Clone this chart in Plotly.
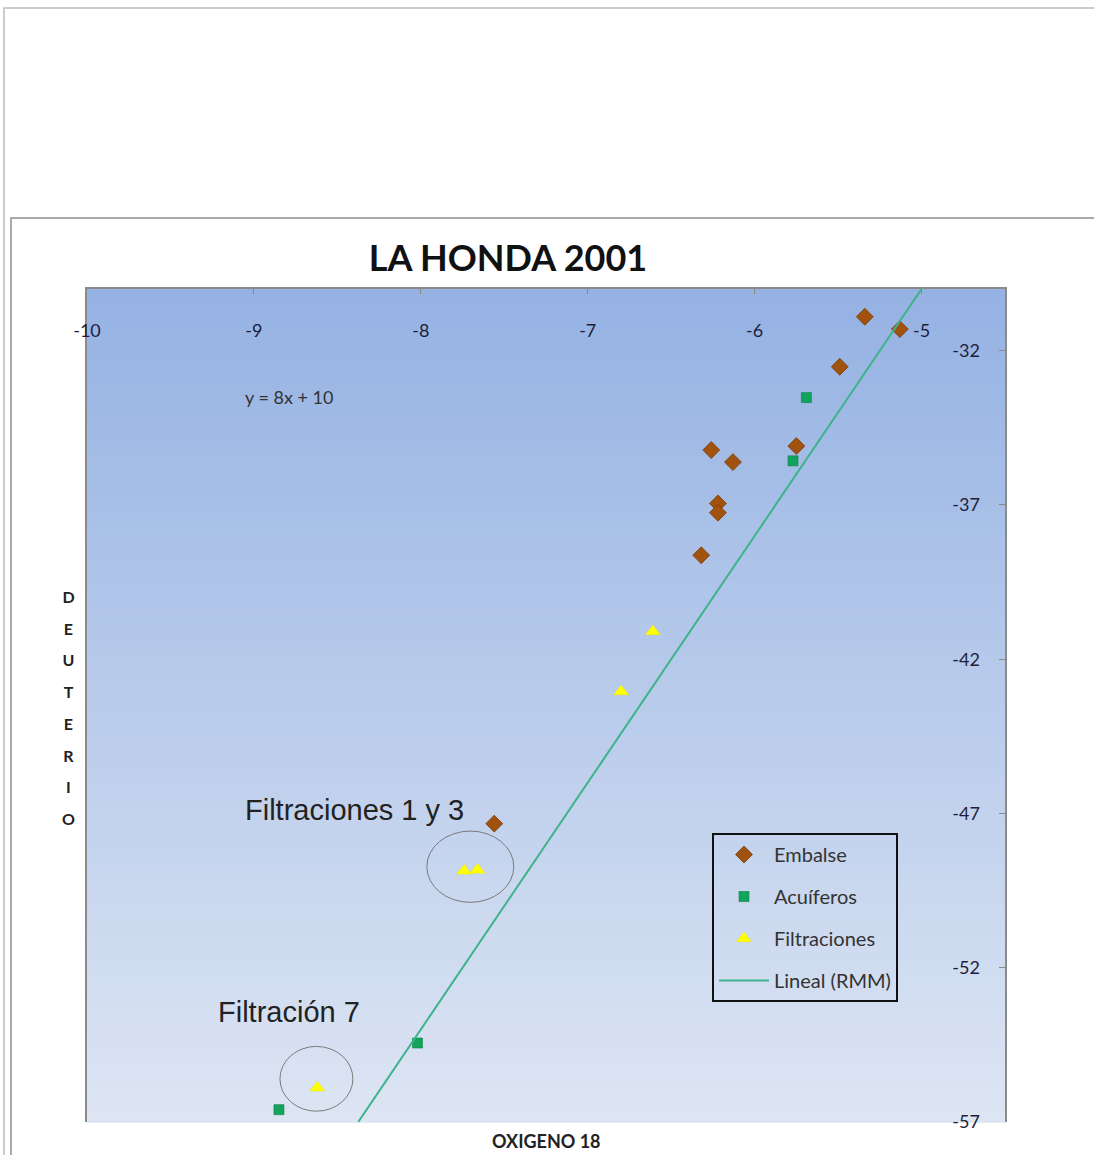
import plotly.graph_objects as go

# ---------------- data ----------------
embalse_x = [-5.34, -5.13, -5.49, -5.75, -6.26, -6.13, -6.22, -6.22, -6.32, -7.56]
embalse_y = [-30.90, -31.30, -32.52, -35.09, -35.22, -35.61, -36.95, -37.25, -38.63, -47.33]

acuiferos_x = [-5.69, -5.77, -8.02, -8.85]
acuiferos_y = [-33.52, -35.57, -54.44, -56.60]

filtraciones_x = [-6.61, -6.80, -7.74, -7.66, -8.62]
filtraciones_y = [-41.10, -43.05, -48.86, -48.83, -55.89]

rmm_slope = 8
rmm_intercept = 10

x_range = [-10, -4.5]
y_range = [-57, -30]
x_ticks = [-10, -9, -8, -7, -6, -5]
y_ticks = [-57, -52, -47, -42, -37, -32]

# ---------------- layout geometry ----------------
W, H = 1094, 1155
ML, MR, MT, MB = 87, 89, 289, 33
PW, PH = W - ML - MR, H - MT - MB


def px_x(p):
    return (p - ML) / PW


def px_y(p):
    return (H - MB - p) / PH


fig = go.Figure()

fig.add_trace(go.Scatter(
    x=embalse_x, y=embalse_y, mode="markers", name="Embalse",
    legendgroup="a",
    marker=dict(symbol="diamond", size=13, color="#A2520F",
                line=dict(color="#7A3C0A", width=0.8)),
))
fig.add_trace(go.Scatter(
    x=acuiferos_x, y=acuiferos_y, mode="markers", name="Acuíferos",
    legendgroup="b",
    marker=dict(symbol="square", size=10, color="#12A45C",
                line=dict(color="#0C8048", width=0.6)),
))
fig.add_trace(go.Scatter(
    x=filtraciones_x, y=filtraciones_y, mode="markers", name="Filtraciones",
    legendgroup="c",
    marker=dict(symbol="triangle-up", size=13, color="#FFFF00",
                line=dict(color="#E8E800", width=0.5)),
))

line_y = list(y_range)
line_x = [(v - rmm_intercept) / rmm_slope for v in line_y]
fig.add_trace(go.Scatter(
    x=line_x, y=line_y, mode="lines", name="Lineal (RMM)",
    legendgroup="d",
    line=dict(color="#3DB38A", width=2),
))

# gradient background of plot area
shapes = []
n = 80
top = (149, 178, 227)
bot = (221, 229, 243)
for i in range(n):
    t = i / (n - 1)
    c = tuple(round(top[k] + (bot[k] - top[k]) * t) for k in range(3))
    shapes.append(dict(
        type="rect", xref="x domain", yref="y domain",
        x0=0, x1=1, y0=1 - (i + 1) / n - 0.001, y1=1 - i / n,
        fillcolor="rgb(%d,%d,%d)" % c, line=dict(width=0), layer="below",
    ))

# outer frames
shapes.append(dict(type="rect", xref="paper", yref="paper",
                   x0=px_x(4), x1=px_x(1200), y0=px_y(1300), y1=px_y(8),
                   line=dict(color="#BBBBBB", width=1.5), layer="below"))
shapes.append(dict(type="rect", xref="paper", yref="paper",
                   x0=px_x(11), x1=px_x(1200), y0=px_y(1300), y1=px_y(218),
                   line=dict(color="#AAAAAA", width=2), layer="below"))

# ellipses around filtration points
shapes.append(dict(type="circle", xref="x", yref="y",
                   x0=-7.964, x1=-7.443, y0=-49.88, y1=-47.57,
                   line=dict(color="#7A7A7A", width=1)))
shapes.append(dict(type="circle", xref="x", yref="y",
                   x0=-8.844, x1=-8.407, y0=-56.65, y1=-54.55,
                   line=dict(color="#7A7A7A", width=1)))

deut = "<br>".join("<span style='font-size:16px'><b>%s</b></span>" % ch for ch in "DEUTERIO")

annotations = [
    dict(text="y = 8x + 10", xref="x", yref="y", x=-8.79, y=-33.5,
         showarrow=False, font=dict(family="Lato, sans-serif", size=18, color="#333333")),
    dict(text="Filtraciones 1 y 3", xref="x", yref="y", x=-8.395, y=-46.89,
         showarrow=False, font=dict(family="Liberation Sans, Arial, sans-serif", size=29, color="#222222")),
    dict(text="Filtración 7", xref="x", yref="y", x=-8.79, y=-53.44,
         showarrow=False, font=dict(family="Liberation Sans, Arial, sans-serif", size=29, color="#222222")),
    dict(text="<b>OXIGENO 18</b>", xref="paper", yref="paper", x=0.5, y=px_y(1141),
         yanchor="middle", showarrow=False,
         font=dict(family="Lato, sans-serif", size=18, color="#222222")),
    dict(text=deut, xref="paper", yref="paper", x=px_x(68), y=px_y(707),
         xanchor="center", yanchor="middle", showarrow=False,
         font=dict(family="Lato, sans-serif", size=24.4, color="#222222")),
]

fig.update_layout(
    width=W, height=H,
    margin=dict(l=ML, r=MR, t=MT, b=MB),
    paper_bgcolor="white",
    plot_bgcolor="rgb(186,204,235)",
    title=dict(text="<b>LA HONDA 2001</b>", x=508 / W, xanchor="center",
               y=1 - 258 / H, yanchor="middle",
               font=dict(family="Lato, sans-serif", size=36, color="#111111")),
    xaxis=dict(range=x_range, tickvals=x_ticks, ticktext=[str(v) for v in x_ticks],
               side="top",
               ticklabelposition="outside", ticklabelstandoff=-57,
               ticks="inside", ticklen=5, tickcolor="#888888",
               showgrid=False, zeroline=False,
               showline=True, linecolor="#8A8A8A", linewidth=1.5,
               tickfont=dict(family="Lato, sans-serif", size=18, color="#1E1E3C")),
    yaxis=dict(range=y_range, tickvals=y_ticks, ticktext=[str(v) for v in y_ticks],
               side="right",
               ticklabelposition="outside", ticklabelstandoff=-58,
               ticks="inside", ticklen=6, tickcolor="#888888",
               showgrid=False, zeroline=False,
               showline=True, mirror=True, linecolor="#8A8A8A", linewidth=1.5,
               tickfont=dict(family="Lato, sans-serif", size=18, color="#1E1E3C")),
    legend=dict(x=px_x(712), y=px_y(833), xanchor="left", yanchor="top",
                bgcolor="rgba(0,0,0,0)", bordercolor="#111111", borderwidth=2,
                traceorder="grouped", tracegroupgap=13, itemwidth=50,
                font=dict(family="Lato, sans-serif", size=20, color="#333333")),
    shapes=shapes,
    annotations=annotations,
    showlegend=True,
)

fig.write_html("out.html", config={"displayModeBar": False},
               post_script="document.body.style.margin='0';document.body.style.overflow='hidden';")
